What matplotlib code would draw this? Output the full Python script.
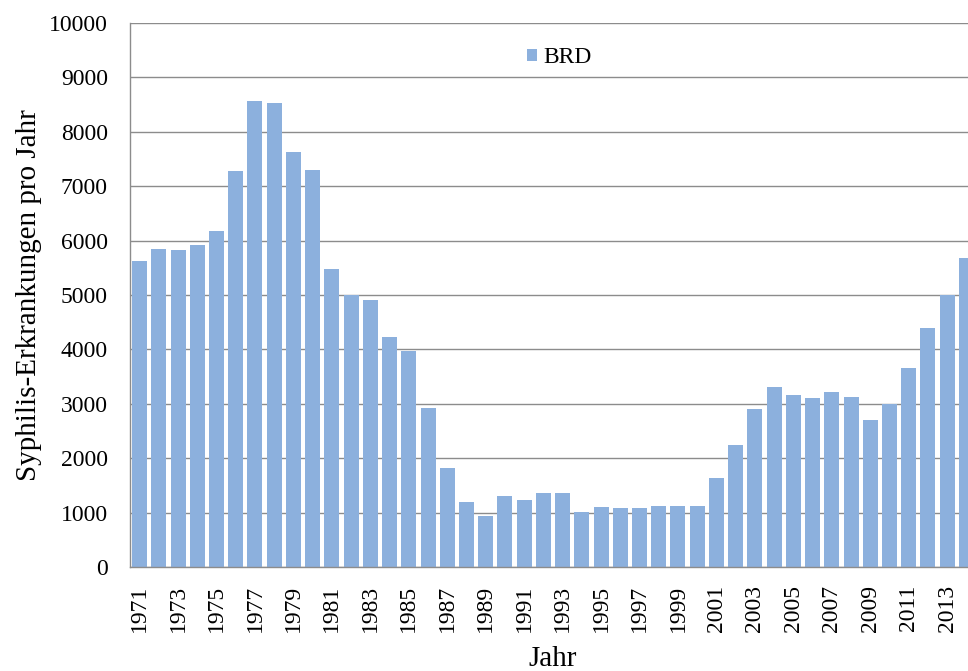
import matplotlib
matplotlib.use("Agg")
import matplotlib.pyplot as plt
import numpy as np

years = list(range(1971, 2015))
cases = [5634, 5845, 5824, 5915, 6176, 7275, 8563, 8521, 7634, 7296,
         5479, 4993, 4915, 4225, 3972, 2915, 1824, 1204, 937, 1296,
         1232, 1352, 1359, 1007, 1106, 1092, 1092, 1113, 1113, 1113,
         1641, 2239, 2901, 3310, 3169, 3113, 3225, 3134, 2704, 2993,
         3662, 4387, 4993, 5683]
tick_labels = [str(y) if (y - 1971) % 2 == 0 else "" for y in years]
yticks = list(range(0, 10001, 1000))

plt.rcParams['font.family'] = ['Liberation Serif', 'DejaVu Serif']

W, H = 968, 671
fig = plt.figure(figsize=(W / 100, H / 100), dpi=100)
ax = fig.add_axes([130 / W, (H - 567) / H, 846 / W, 544 / H])

x = np.arange(len(years))
ax.bar(x, cases, width=0.78, color='#8CB0DD', label='BRD', zorder=2)

ax.set_xlim(-0.5, len(years) - 0.5)
ax.set_ylim(0, 10000)
ax.set_yticks(yticks)
ax.set_yticklabels([str(v) for v in yticks], fontsize=17)
ax.set_xticks(x)
ax.set_xticklabels(tick_labels, rotation=90, fontsize=17)
ax.tick_params(axis='both', length=0)
ax.tick_params(axis='y', pad=16)
ax.tick_params(axis='x', pad=13)

ax.grid(axis='y', color='#8c8c8c', linewidth=1.0, zorder=1)
ax.set_axisbelow(True)
for s in ['top', 'right']:
    ax.spines[s].set_visible(False)
for s in ['left', 'bottom']:
    ax.spines[s].set_color('#8c8c8c')
    ax.spines[s].set_linewidth(1.0)

ax.set_ylabel('Syphilis-Erkrankungen pro Jahr', fontsize=21, labelpad=5)
ax.set_xlabel('Jahr', fontsize=21, labelpad=10)

ax.legend(loc='center', bbox_to_anchor=(0.508, 0.936), frameon=False,
          fontsize=17, handlelength=0.4, handleheight=0.4, handletextpad=0.3,
          borderpad=0)

fig.savefig('out.png', dpi=100)
